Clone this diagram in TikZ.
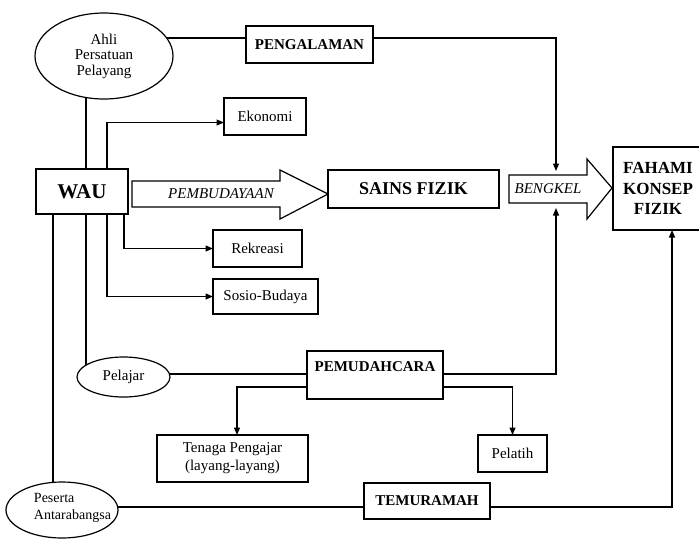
\documentclass[tikz,border=0pt]{standalone}
\usepackage{fontspec}
\setmainfont{Liberation Serif}
\usetikzlibrary{arrows.meta,shapes.geometric,backgrounds}
\begin{document}
\begin{tikzpicture}[x=1pt,y=-1pt,
  every node/.style={inner sep=0pt, outer sep=0pt},
  box/.style={draw, line width=1.2pt, fill=white, align=center, font=\fontsize{15}{18}\selectfont},
  bbox/.style={box, font=\fontsize{15}{17}\selectfont\bfseries},
  oval/.style={draw, ellipse, line width=1.2pt, fill=white, align=center, font=\fontsize{15}{15.5}\selectfont},
  conn/.style={line width=1.2pt},
  arr/.style={conn, -{Triangle[length=7.5pt,width=6pt]}},
  big/.style={draw, line width=1.2pt, fill=white, line join=miter},
  ital/.style={font=\fontsize{15}{17}\selectfont\itshape},
]
\useasboundingbox (0,0) rectangle (699,539);

% nodes
\node[oval, minimum width=138, minimum height=86] (ahli) at (104,56) {Ahli\\Persatuan\\Pelayang};
\node[bbox, minimum width=127, minimum height=37] (peng) at (309.5,44.5) {PENGALAMAN};
\node[box, minimum width=82, minimum height=37] (eko) at (265,116.5) {Ekonomi};
\node[box, font=\fontsize{21}{23}\selectfont\bfseries, minimum width=92, minimum height=45] (wau) at (82,191.5) {WAU};
\node[box, font=\fontsize{18}{20}\selectfont\bfseries, minimum width=171, minimum height=38] (sains) at (413.5,189) {SAINS FIZIK};
\node[box, font=\fontsize{17}{20.5}\selectfont\bfseries, minimum width=90, minimum height=83] (fahami) at (658,188.5) {FAHAMI\\KONSEP\\FIZIK};
\node[box, minimum width=89, minimum height=37] (rek) at (257.5,248.5) {Rekreasi};
\node[box, minimum width=105, minimum height=35] (sos) at (265.5,296.5) {Sosio-Budaya};
\node[oval, minimum width=93, minimum height=40] (pelajar) at (123.5,377) {Pelajar};
\node[draw, line width=1.2pt, fill=white, minimum width=136, minimum height=48] (pem) at (375,375) {};
\node[font=\fontsize{15}{17}\selectfont\bfseries] (pemlbl) at (375,367) {PEMUDAHCARA};
\node[box, minimum width=151, minimum height=47] (tenaga) at (232.5,458.5) {Tenaga Pengajar\\(layang-layang)};
\node[box, minimum width=69, minimum height=37] (pelatih) at (512.5,453.5) {Pelatih};
\node[bbox, minimum width=126, minimum height=36] (temu) at (427,501) {TEMURAMAH};
\node[oval, minimum width=112, minimum height=56] (peserta) at (62,510) {};
\node[align=left, anchor=west, font=\fontsize{14}{17}\selectfont] (pestext) at (34,508) {Peserta\\Antarabangsa};

% big arrows
\draw[big] (132,181) -- (280,181) -- (280,170) -- (328,194) -- (280,219) -- (280,207) -- (132,207) -- cycle;
\node[ital] (pembud) at (221,194) {PEMBUDAYAAN};
\draw[big] (509,175) -- (587,175) -- (587,159) -- (612,188) -- (587,219) -- (587,203) -- (509,203) -- cycle;
\node[ital] (beng) at (548,189) {BENGKEL};

% connection points
\coordinate (pengL) at ([yshift=6.5pt]peng.west);
\coordinate (pengR) at ([yshift=6.5pt]peng.east);
\coordinate (btop) at (556,171);
\coordinate (bbot) at (556,208);
\coordinate (pemL) at ([yshift=1pt]pem.west);
\coordinate (pemR) at ([yshift=1pt]pem.east);
\coordinate (pemLL) at ([yshift=-12pt]pem.west);
\coordinate (pemRR) at ([yshift=-12pt]pem.east);
\coordinate (temuL) at ([yshift=-6pt]temu.west);
\coordinate (temuR) at ([yshift=-6pt]temu.east);

\begin{scope}[on background layer]
\draw[conn] (pengL) -- (ahli.center |- pengL);
\draw[arr] (pengR) -| (btop);
\draw[conn] (ahli.center -| 86,0) -- (pelajar.center -| 86,0);
\draw[arr] (wau.center -| 107,0) |- ([yshift=-6pt]eko.west);
\draw[arr] (wau.center -| 107,0) |- (sos.west);
\draw[arr] (wau.center -| 124,0) |- (rek.west);
\draw[conn] (wau.center -| 53,0) -- (peserta.center -| 53,0);
\draw[conn] (pemL) -- (pelajar.center |- pemL);
\draw[arr] (pemR) -| (bbot);
\draw[arr] (pemLL) -| ([xshift=4.5pt]tenaga.north);
\draw[arr] (pemRR) -| (pelatih.north);
\draw[conn] (temuL) -- (peserta.center |- temuL);
\draw[arr] (temuR) -| ([xshift=14pt]fahami.south);
\end{scope}
\end{tikzpicture}
\end{document}
